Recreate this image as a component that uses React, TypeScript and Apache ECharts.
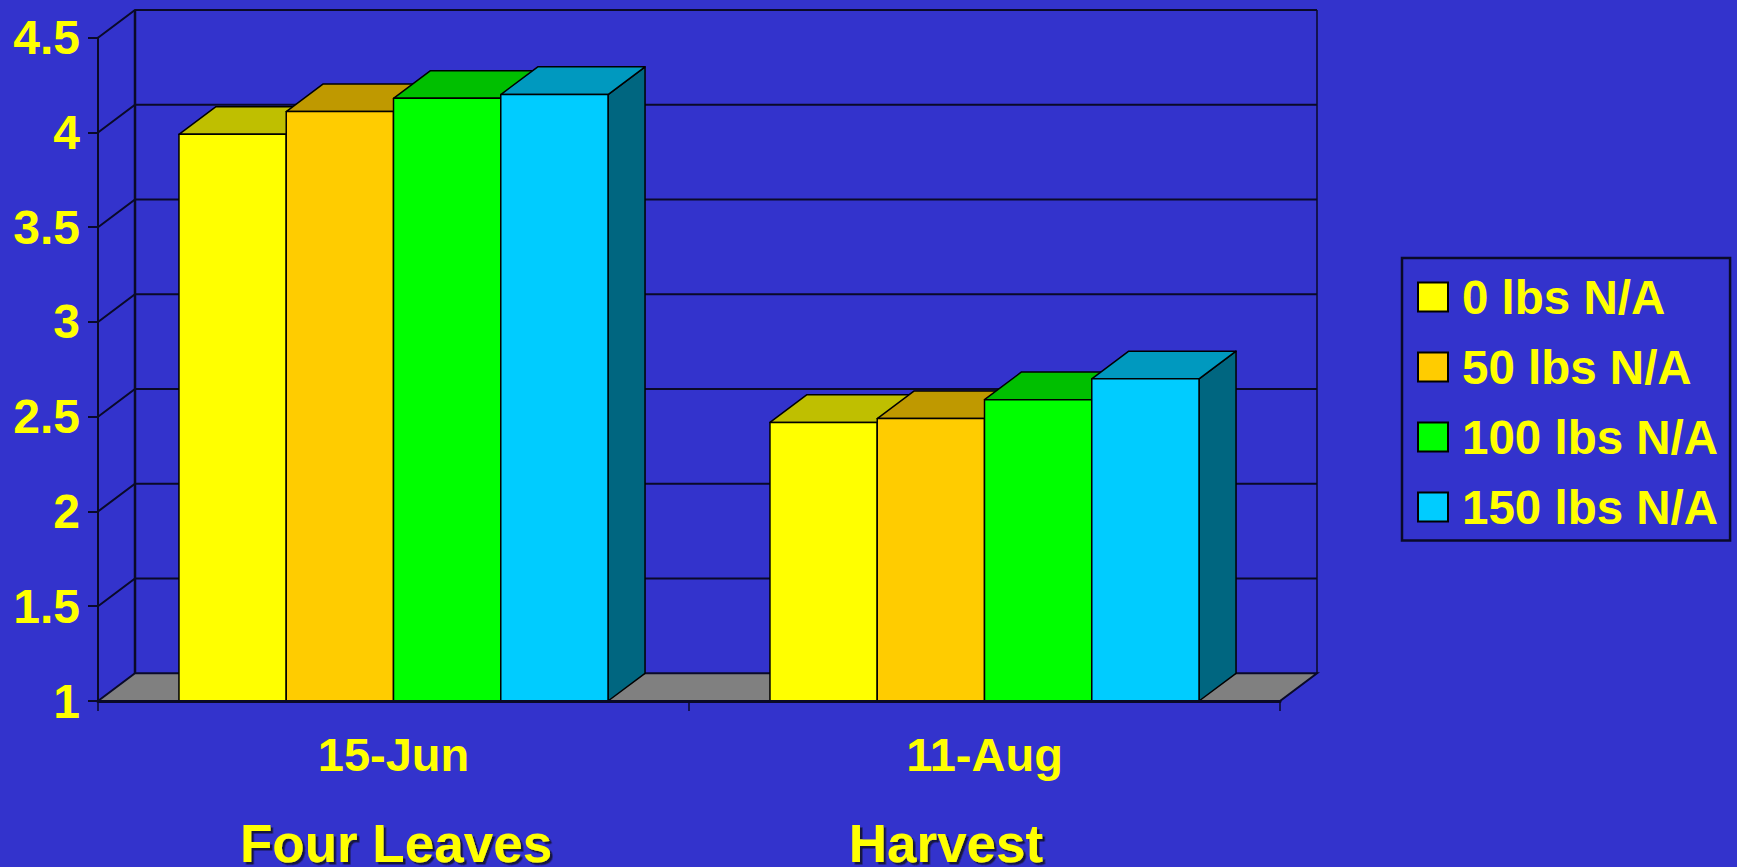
import React, { useEffect, useRef } from "react";
import * as echarts from "echarts";

const categories = ["15-Jun", "11-Aug"];
const stageLabels = ["Four Leaves", "Harvest"];
const seriesNames = ["0 lbs N/A", "50 lbs N/A", "100 lbs N/A", "150 lbs N/A"];
const lbs0 = [3.99, 2.47];
const lbs50 = [4.11, 2.49];
const lbs100 = [4.18, 2.59];
const lbs150 = [4.2, 2.7];
const seriesValues = [lbs0, lbs50, lbs100, lbs150];
const yTicks = [1, 1.5, 2, 2.5, 3, 3.5, 4, 4.5];

const frontColors = ["#FFFF00", "#FFCC00", "#00FF00", "#00CCFF"];
const topColors = ["#BFBF00", "#BF9900", "#00BF00", "#0099BF"];
const sideColors = ["#808000", "#806600", "#008000", "#006680"];

const BG = "#3333CC";
const LINE = "#0A0A28";
const TEXT = "#FFFF00";
const FONT = '"Liberation Sans", Arial, sans-serif';
const DX = 37;
const DY = 27.7;
const BAR_SHARE = 0.1815;

export default function App() {
  const ref = useRef<HTMLDivElement>(null);
  useEffect(() => {
    const chart = echarts.init(ref.current!, undefined, { renderer: "svg" });

    const wallSeries: any = {
      type: "custom",
      z: 1,
      silent: true,
      data: yTicks.map((v) => [0, v]),
      encode: { x: 0, y: 1 },
      renderItem: (params: any, api: any) => {
        const cs = params.coordSys;
        const v = api.value(1);
        const y = api.coord([0, v])[1];
        const left = cs.x;
        const right = cs.x + cs.width;
        const children: any[] = [];
        const lineStyle = { stroke: LINE, lineWidth: 2, fill: "none" };
        if (v === yTicks[0]) {
          children.push({
            type: "polygon",
            shape: { points: [[left, y], [left + DX, y - DY], [right + DX, y - DY], [right, y]] },
            style: { fill: "#808080", stroke: LINE, lineWidth: 2 },
          });
        } else {
          children.push({
            type: "polyline",
            shape: { points: [[left, y], [left + DX, y - DY], [right + DX, y - DY]] },
            style: lineStyle,
          });
        }
        if (v === yTicks[yTicks.length - 1]) {
          const bottom = cs.y + cs.height - DY;
          children.push({
            type: "line",
            shape: { x1: left + DX, y1: y - DY, x2: left + DX, y2: bottom },
            style: { stroke: LINE, lineWidth: 2.5 },
          });
          children.push({
            type: "line",
            shape: { x1: right + DX, y1: y - DY, x2: right + DX, y2: bottom },
            style: { stroke: LINE, lineWidth: 1.5 },
          });
        }
        return { type: "group", children };
      },
    };

    const barSeries: any[] = seriesNames.map((name, si) => ({
      type: "custom",
      name,
      z: 2 + si,
      silent: true,
      itemStyle: { color: frontColors[si], borderColor: "#000", borderWidth: 1.5 },
      data: seriesValues[si].map((v, i) => [i, v]),
      encode: { x: 0, y: 1 },
      renderItem: (_params: any, api: any) => {
        const base = api.coord([api.value(0), yTicks[0]]);
        const top = api.coord([api.value(0), api.value(1)]);
        const band = api.size([1, 0])[0];
        const w = band * BAR_SHARE;
        const x = base[0] + (si - seriesNames.length / 2) * w;
        const yT = top[1];
        const yB = base[1];
        const edge = { stroke: "#000", lineWidth: 1.5, lineJoin: "round" };
        return {
          type: "group",
          children: [
            {
              type: "polygon",
              shape: { points: [[x + w, yT], [x + w + DX, yT - DY], [x + w + DX, yB - DY], [x + w, yB]] },
              style: { fill: sideColors[si], ...edge },
            },
            {
              type: "polygon",
              shape: { points: [[x, yT], [x + DX, yT - DY], [x + w + DX, yT - DY], [x + w, yT]] },
              style: { fill: topColors[si], ...edge },
            },
            {
              type: "rect",
              shape: { x, y: yT, width: w, height: yB - yT },
              style: { fill: frontColors[si], ...edge },
            },
          ],
        };
      },
    }));

    const axisText = { color: TEXT, fontSize: 48, fontWeight: "bold" as const, fontFamily: FONT };
    const axisStroke = { color: LINE, width: 2 };

    chart.setOption({
      animation: false,
      backgroundColor: BG,
      grid: { left: 98, top: 37.7, width: 1182, height: 663.3 },
      xAxis: {
        type: "category",
        data: categories,
        z: 20,
        boundaryGap: true,
        axisLine: { lineStyle: { color: LINE, width: 3 } },
        axisTick: { show: true, length: 10, lineStyle: { color: LINE, width: 1.5 } },
        axisLabel: { ...axisText, fontSize: 47, margin: 30, interval: 0 },
        splitLine: { show: false },
      },
      yAxis: {
        type: "value",
        min: 1,
        max: 4.5,
        interval: 0.5,
        z: 20,
        axisLine: { show: true, lineStyle: { color: LINE, width: 2 } },
        axisTick: { show: true, length: 10, lineStyle: axisStroke },
        axisLabel: { ...axisText, margin: 18 },
        splitLine: { show: false },
      },
      legend: {
        data: seriesNames,
        orient: "vertical",
        left: 1402,
        top: 258,
        icon: "rect",
        itemWidth: 30,
        itemHeight: 29,
        itemGap: 22,
        padding: [15, 12, 9.4, 15],
        borderColor: LINE,
        borderWidth: 2.5,
        backgroundColor: "transparent",
        selectedMode: false,
        textStyle: { ...axisText, fontSize: 47.5, padding: [0, 0, 0, 9] },
      },
      graphic: stageLabels.map((text, i) => ({
        type: "text",
        x: [396, 946][i],
        y: 843,
        silent: true,
        style: {
          text,
          fill: TEXT,
          font: `bold 53px ${FONT}`,
          textAlign: "center",
          textVerticalAlign: "middle",
          textShadowColor: "#15153F",
          textShadowOffsetX: 2.5,
          textShadowOffsetY: 2.5,
          textShadowBlur: 0.5,
        },
      })),
      series: [wallSeries, ...barSeries],
    });
    return () => chart.dispose();
  }, []);
  return (
    <div
      ref={ref}
      style={{ position: "absolute", left: 0, top: 0, width: 1737, height: 867 }}
    />
  );
}
